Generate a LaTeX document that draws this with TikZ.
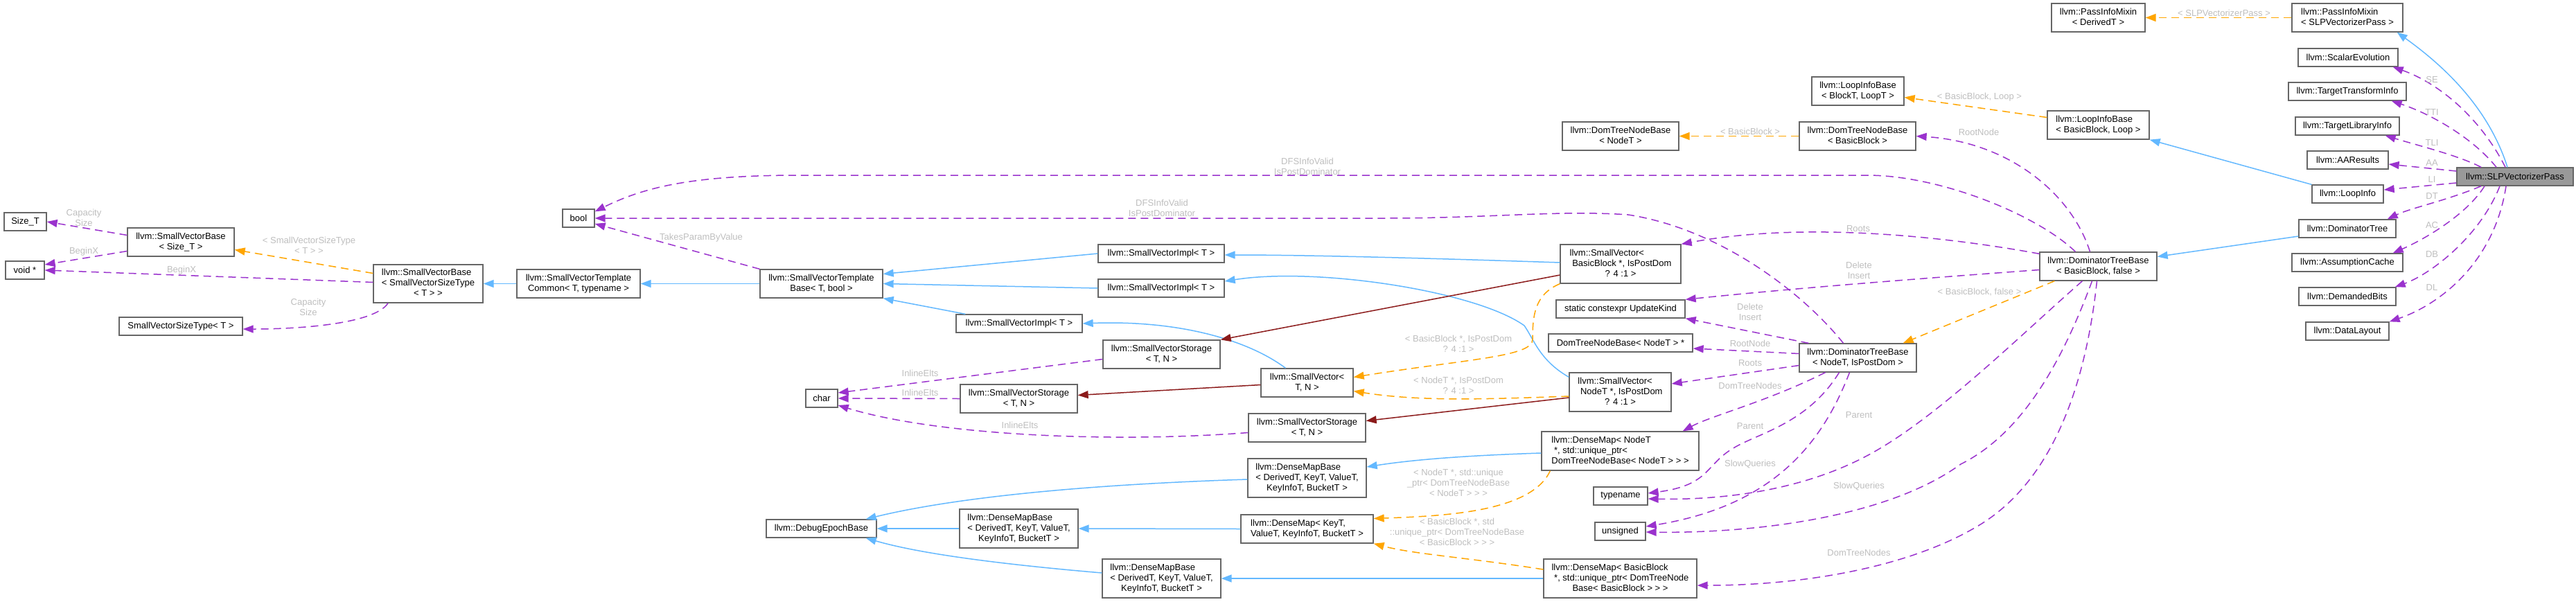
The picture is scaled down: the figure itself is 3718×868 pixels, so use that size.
\documentclass[tikz,border=0pt]{standalone}
\usepackage{fontspec}
\setmainfont{Liberation Sans}
\usetikzlibrary{arrows.meta}
\definecolor{inhblue}{HTML}{63B8FF}
\definecolor{tplorange}{HTML}{FFA500}
\definecolor{usepurple}{HTML}{9A32CD}
\definecolor{privred}{HTML}{8B1A1A}
\definecolor{boxgray}{HTML}{666666}
\definecolor{lblgray}{HTML}{BEBEBE}
\definecolor{selfill}{HTML}{999999}
\newcommand\mlines[2]{\begin{tabular}{@{}l@{}}#1\\\multicolumn{1}{@{}c@{}}{#2}\end{tabular}}
\newcommand\umlnode[7]{%
  \pgfmathsetmacro\ux{(#3+#5)/2}%
  \pgfmathsetmacro\uy{(#4+#6)/2}%
  \pgfmathsetmacro\uw{#5-#3}%
  \pgfmathsetmacro\uh{#6-#4}%
  \node[#1,minimum width=\uw pt,minimum height=\uh pt] (#2) at (\ux,\uy) {#7};}
\tikzset{
  box/.style={draw=boxgray, fill=white, line width=1.3pt, inner sep=0pt, font=\fontsize{13}{15}\selectfont},
  selbox/.style={box, fill=selfill},
  tip/.style={-{Triangle[length=15pt,width=11pt]}},
  inh/.style={draw=inhblue, line width=1.5pt, tip},
  tpl/.style={draw=tplorange, line width=1.5pt, dash pattern=on 11pt off 7pt, tip},
  usage/.style={draw=usepurple, line width=1.5pt, dash pattern=on 11pt off 7pt, tip},
  priv/.style={draw=privred, line width=1.5pt, tip},
  lbl/.style={text=lblgray, font=\fontsize{13}{15}\selectfont, align=center, inner sep=0pt},
}
\begin{document}
\begin{tikzpicture}[x=1pt,y=-1pt]
\useasboundingbox (0,0) rectangle (3718,868);
% ---------------- nodes ----------------
\umlnode{box}{sizet}{6}{307}{67}{333}{Size\_T}
\umlnode{box}{svbsize}{184}{329}{338}{370}{\mlines{llvm::SmallVectorBase}{< Size\_T >}}
\umlnode{box}{voidp}{8}{377}{64}{403}{void *}
\umlnode{box}{svbsst}{539}{382}{697}{437}{\mlines{llvm::SmallVectorBase\\< SmallVectorSizeType}{< T > >}}
\umlnode{box}{svtc}{746}{389}{924}{430}{\mlines{llvm::SmallVectorTemplate}{Common< T, typename >}}
\umlnode{box}{svst}{172}{458}{350}{484}{SmallVectorSizeType< T >}
\umlnode{box}{booln}{812}{302}{858}{328}{bool}
\umlnode{box}{svtb}{1097}{389}{1274}{430}{\mlines{llvm::SmallVectorTemplate}{Base< T, bool >}}
\umlnode{box}{svi1}{1585}{353}{1767}{379}{llvm::SmallVectorImpl< T >}
\umlnode{box}{svi2}{1585}{403}{1767}{429}{llvm::SmallVectorImpl< T >}
\umlnode{box}{svi3}{1380}{454}{1562}{480}{llvm::SmallVectorImpl< T >}
\umlnode{box}{svs1}{1592}{491}{1761}{532}{\mlines{llvm::SmallVectorStorage}{< T, N >}}
\umlnode{box}{svtn}{1820}{532}{1953}{573}{\mlines{llvm::SmallVector<}{T, N >}}
\umlnode{box}{charn}{1163}{562}{1209}{588}{char}
\umlnode{box}{svs2}{1386}{555}{1555}{596}{\mlines{llvm::SmallVectorStorage}{< T, N >}}
\umlnode{box}{svs3}{1802}{597}{1971}{638}{\mlines{llvm::SmallVectorStorage}{< T, N >}}
\umlnode{box}{dmb1}{1801}{662}{1972}{718}{\mlines{llvm::DenseMapBase\\< DerivedT, KeyT, ValueT,}{KeyInfoT, BucketT >}}
\umlnode{box}{deb}{1106}{750}{1265}{776}{llvm::DebugEpochBase}
\umlnode{box}{dmb2}{1385}{735}{1556}{791}{\mlines{llvm::DenseMapBase\\< DerivedT, KeyT, ValueT,}{KeyInfoT, BucketT >}}
\umlnode{box}{dmk}{1791}{743}{1982}{784}{\mlines{llvm::DenseMap< KeyT,}{ValueT, KeyInfoT, BucketT >}}
\umlnode{box}{dmb3}{1591}{807}{1762}{863}{\mlines{llvm::DenseMapBase\\< DerivedT, KeyT, ValueT,}{KeyInfoT, BucketT >}}
\umlnode{box}{pim}{2961}{5}{3096}{46}{\mlines{llvm::PassInfoMixin}{< DerivedT >}}
\umlnode{box}{pims}{3308}{5}{3468}{46}{\mlines{llvm::PassInfoMixin}{< SLPVectorizerPass >}}
\umlnode{box}{se}{3317}{70}{3461}{96}{llvm::ScalarEvolution}
\umlnode{box}{tti}{3303}{119}{3473}{145}{llvm::TargetTransformInfo}
\umlnode{box}{tli}{3313}{169}{3463}{195}{llvm::TargetLibraryInfo}
\umlnode{box}{aa}{3330}{218}{3447}{244}{llvm::AAResults}
\umlnode{selbox}{slp}{3546}{242}{3714}{268}{llvm::SLPVectorizerPass}
\umlnode{box}{li}{3337}{267}{3440}{293}{llvm::LoopInfo}
\umlnode{box}{libb}{2955}{160}{3102}{201}{\mlines{llvm::LoopInfoBase}{< BasicBlock, Loop >}}
\umlnode{box}{lib}{2615}{111}{2748}{152}{\mlines{llvm::LoopInfoBase}{< BlockT, LoopT >}}
\umlnode{box}{dtnb}{2255}{176}{2423}{217}{\mlines{llvm::DomTreeNodeBase}{< NodeT >}}
\umlnode{box}{dtnbb}{2597}{176}{2765}{217}{\mlines{llvm::DomTreeNodeBase}{< BasicBlock >}}
\umlnode{box}{dt}{3318}{317}{3458}{343}{llvm::DominatorTree}
\umlnode{box}{ac}{3308}{366}{3468}{392}{llvm::AssumptionCache}
\umlnode{box}{db}{3318}{415}{3458}{441}{llvm::DemandedBits}
\umlnode{box}{dl}{3328}{465}{3448}{491}{llvm::DataLayout}
\umlnode{box}{dtbb}{2944}{364}{3113}{405}{\mlines{llvm::DominatorTreeBase}{< BasicBlock, false >}}
\umlnode{box}{svbb}{2252}{353}{2426}{409}{\mlines{llvm::SmallVector<\\\ BasicBlock *, IsPostDom}{? 4 :1 >}}
\umlnode{box}{uk}{2246}{433}{2432}{459}{static constexpr UpdateKind}
\umlnode{box}{dtnbp}{2235}{482}{2443}{508}{DomTreeNodeBase< NodeT > *}
\umlnode{box}{dtbn}{2597}{496}{2766}{537}{\mlines{llvm::DominatorTreeBase}{< NodeT, IsPostDom >}}
\umlnode{box}{svn}{2265}{538}{2412}{594}{\mlines{llvm::SmallVector<\\\ NodeT *, IsPostDom}{? 4 :1 >}}
\umlnode{box}{dmn}{2225}{623}{2452}{679}{\mlines{llvm::DenseMap< NodeT\\\ *, std::unique\_ptr<}{DomTreeNodeBase< NodeT > > >}}
\umlnode{box}{tn}{2300}{703}{2378}{729}{typename}
\umlnode{box}{us}{2302}{754}{2375}{780}{unsigned}
\umlnode{box}{dmbbk}{2228}{807}{2449}{863}{\mlines{llvm::DenseMap< BasicBlock\\\ *, std::unique\_ptr< DomTreeNode}{Base< BasicBlock > > >}}
% ---------------- left cluster edges ----------------
\draw[usage] ([yshift=10pt]svbsize.west) -- (sizet.east);
\draw[usage] ([yshift=-13pt]svbsize.west) -- ([yshift=8pt]voidp.east);
\draw[tpl] ([yshift=15pt]svbsst.west) -- ([yshift=-11pt]svbsize.east);
\draw[usage] ([yshift=2pt]svbsst.west) -- (voidp.east);
\draw[usage] ([xshift=-58pt]svbsst.south) .. controls (540,468) and (430,475) .. ([yshift=-4pt]svst.east);
\draw[inh] (svtc.west) -- (svbsst.east);
\draw[inh] (svtb.west) -- (svtc.east);
\draw[usage] (svtb.north west) -- ([yshift=-8pt]booln.east);
\draw[inh] (svi1.west) -- ([yshift=14pt]svtb.east);
\draw[inh] (svi2.west) -- (svtb.east);
\draw[inh] ([xshift=14pt]svi3.north west) -- (svtb.south east);
\draw[inh] ([yshift=2pt]svbb.west) .. controls (2100,374) and (1900,368) .. ([yshift=-2pt]svi1.east);
\draw[inh] ([yshift=-7pt]svn.north west) .. controls (2222,520) and (2214,490) .. (2200,470) .. controls (2130,420) and (1900,385) .. ([yshift=10pt]svi2.east);
\draw[inh] ([xshift=-31pt]svtn.north) .. controls (1800,490) and (1700,462) .. (svi3.east);
\draw[priv] ([yshift=-16pt]svbb.west) -- (svs1.north east);
\draw[priv] ([yshift=-3pt]svtn.west) -- ([yshift=5pt]svs2.east);
\draw[priv] ([yshift=-8pt]svn.west) -- ([yshift=10pt]svs3.east);
\draw[tpl] (svbb.south west) .. controls (2215,425) and (2212,455) .. (2212,490) .. controls (2212,515) and (2120,518) .. ([yshift=8pt]svtn.east);
\draw[tpl] ([yshift=-6pt]svn.west) .. controls (2150,576) and (2050,580) .. ([yshift=-12pt]svtn.east);
\draw[usage] ([yshift=-7pt]svs1.west) -- ([yshift=8pt]charn.east);
\draw[usage] (svs2.west) -- (charn.east);
\draw[usage] ([yshift=-7pt]svs3.west) .. controls (1600,640) and (1350,628) .. ([yshift=-10pt]charn.east);
% ---------------- dense maps ----------------
\draw[inh] ([yshift=-3pt]dmn.west) .. controls (2100,658) and (2030,665) .. ([yshift=16pt]dmb1.east);
\draw[tpl] ([xshift=13pt]dmn.south west) .. controls (2210,740) and (2080,745) .. ([yshift=15pt]dmk.east);
\draw[tpl] ([yshift=13pt]dmbbk.west) .. controls (2120,805) and (2040,800) .. (dmk.south east);
\draw[inh] (dmbbk.west) -- (dmb3.east);
\draw[inh] (dmk.west) -- (dmb2.east);
\draw[inh] ([yshift=-2pt]dmb1.west) .. controls (1550,700) and (1370,720) .. ([xshift=-16pt]deb.north east);
\draw[inh] (dmb2.west) -- (deb.east);
\draw[inh] ([yshift=8pt]dmb3.west) .. controls (1450,815) and (1330,800) .. ([xshift=-16pt]deb.south east);
% ---------------- right cluster ----------------
\draw[tpl] (pims.west) -- (pim.east);
\draw[inh] ([xshift=-11pt]slp.north) .. controls (3590,150) and (3520,90) .. ([xshift=-9pt]pims.south east);
\draw[usage] ([xshift=-14pt]slp.north) .. controls (3580,170) and (3520,120) .. ([xshift=-8pt]se.south east);
\draw[usage] ([xshift=-27pt]slp.north) .. controls (3570,200) and (3510,165) .. ([xshift=-22pt]tti.south east);
\draw[usage] ([xshift=-49pt]slp.north) .. controls (3550,225) and (3490,210) .. ([xshift=-21pt]tli.south east);
\draw[usage] ([yshift=8pt]slp.west) -- ([yshift=-6pt]aa.east);
\draw[usage] ([yshift=-9pt]slp.west) -- ([yshift=6pt]li.east);
\draw[usage] ([xshift=-49pt]slp.south) .. controls (3530,290) and (3480,300) .. ([xshift=-13pt]dt.north east);
\draw[usage] ([xshift=-44pt]slp.south) .. controls (3560,310) and (3500,345) .. ([xshift=-15pt]ac.north east);
\draw[usage] ([xshift=-22pt]slp.south) .. controls (3580,340) and (3510,395) .. ([xshift=-2pt]db.north east);
\draw[usage] ([xshift=-13pt]slp.south) .. controls (3600,380) and (3520,440) .. (dl.north east);
\draw[inh] (li.north west) -- (libb.south east);
\draw[tpl] ([yshift=11pt]libb.west) -- ([yshift=-9pt]lib.east);
\draw[inh] ([yshift=-11pt]dt.west) -- ([yshift=14pt]dtbb.east);
% ---------------- dominator tree base (BasicBlock) ----------------
\draw[tpl] ([xshift=22pt]dtbb.south west) -- ([xshift=-20pt]dtbn.north east);
\draw[usage] ([xshift=-12pt]dtbb.north) .. controls (2990,280) and (2900,205) .. (dtnbb.east);
\draw[tpl] (dtnbb.west) -- (dtnb.east);
\draw[usage] ([xshift=-33pt]dtbb.north) .. controls (2940,310) and (2800,253) .. (2695,253) -- (1153,253) .. controls (1000,253) and (930,270) .. ([yshift=-4pt]booln.north east);
\draw[usage] ([yshift=-3pt]dtbb.north west) .. controls (2800,340) and (2600,320) .. (svbb.north east);
\draw[usage] ([yshift=-5pt]dtbb.west) .. controls (2800,400) and (2600,415) .. (uk.north east);
\draw[usage] ([xshift=-23pt]dtbb.south) .. controls (2920,480) and (2800,600) .. (2700,655) .. controls (2600,710) and (2480,722) .. ([yshift=-4pt]tn.east);
\draw[usage] ([xshift=-9pt]dtbb.south) .. controls (2970,540) and (2910,630) .. (2830,670) .. controls (2720,750) and (2520,770) .. ([yshift=-1pt]us.east);
\draw[usage] ([xshift=-2pt]dtbb.south) .. controls (3010,560) and (2960,700) .. (2850,762) .. controls (2750,820) and (2600,845) .. ([yshift=-10pt]dmbbk.east);
% ---------------- dominator tree base (NodeT) ----------------
\draw[usage] ([xshift=-21pt]dtbn.north) .. controls (2600,420) and (2480,330) .. (2350,310) .. controls (2250,303) and (2150,315) .. (2000,315) -- (booln.east);
\draw[usage] ([xshift=14pt]dtbn.north west) -- (uk.south east);
\draw[usage] ([yshift=6pt]dtbn.west) -- ([yshift=-8pt]dtnbp.east);
\draw[usage] ([yshift=-11pt]dtbn.west) -- ([yshift=12pt]svn.east);
\draw[usage] ([xshift=-47pt]dtbn.south) .. controls (2550,580) and (2470,600) .. ([xshift=-24pt]dmn.north east);
\draw[usage] ([xshift=-27pt]dtbn.south) .. controls (2610,610) and (2540,625) .. (2505,645) .. controls (2460,670) and (2470,700) .. ([yshift=4pt]tn.east);
\draw[usage] ([xshift=-12pt]dtbn.south) .. controls (2630,640) and (2560,730) .. ([yshift=7pt]us.east);
% ---------------- labels ----------------
\node[lbl] (l1) at (121,314) {Capacity\\Size};
\node[lbl] (l2) at (121,363) {BeginX};
\node[lbl] (l3) at (446,354) {< SmallVectorSizeType\\< T > >};
\node[lbl] (l4) at (262,390) {BeginX};
\node[lbl] (l5) at (445,443) {Capacity\\Size};
\node[lbl] (l6) at (1012,343) {TakesParamByValue};
\node[lbl] (l7) at (1887,240) {DFSInfoValid\\IsPostDominator};
\node[lbl] (l8) at (1677,300) {DFSInfoValid\\IsPostDominator};
\node[lbl] (l9) at (1328,539) {InlineElts};
\node[lbl] (l10) at (1328,567) {InlineElts};
\node[lbl] (l11) at (1472,614) {InlineElts};
\node[lbl] (l12) at (2105,496) {< BasicBlock *, IsPostDom\\? 4 :1 >};
\node[lbl] (l13) at (2105,556) {< NodeT *, IsPostDom\\? 4 :1 >};
\node[lbl] (l14) at (2105,697) {< NodeT *, std::unique\\\_ptr< DomTreeNodeBase\\< NodeT > > >};
\node[lbl] (l15) at (2103,768) {< BasicBlock *, std\\::unique\_ptr< DomTreeNodeBase\\< BasicBlock > > >};
\node[lbl] (l16) at (3210,19) {< SLPVectorizerPass >};
\node[lbl] (l17) at (2857,140) {< BasicBlock, Loop >};
\node[lbl] (l18) at (2526,190) {< BasicBlock >};
\node[lbl] (l19) at (2856,191) {RootNode};
\node[lbl] (l20) at (2682,330) {Roots};
\node[lbl] (l21) at (2683,390) {Delete\\Insert};
\node[lbl] (l22) at (2857,422) {< BasicBlock, false >};
\node[lbl] (l23) at (2526,450) {Delete\\Insert};
\node[lbl] (l24) at (2526,496) {RootNode};
\node[lbl] (l25) at (2526,524) {Roots};
\node[lbl] (l26) at (2526,557) {DomTreeNodes};
\node[lbl] (l27) at (2526,615) {Parent};
\node[lbl] (l28) at (2683,599) {Parent};
\node[lbl] (l29) at (2526,670) {SlowQueries};
\node[lbl] (l30) at (2683,702) {SlowQueries};
\node[lbl] (l31) at (2683,798) {DomTreeNodes};
\node[lbl] (l32) at (3510,115) {SE};
\node[lbl] (l33) at (3510,162) {TTI};
\node[lbl] (l34) at (3510,206) {TLI};
\node[lbl] (l35) at (3510,235) {AA};
\node[lbl] (l36) at (3510,259) {LI};
\node[lbl] (l37) at (3510,283) {DT};
\node[lbl] (l38) at (3510,325) {AC};
\node[lbl] (l39) at (3510,367) {DB};
\node[lbl] (l40) at (3510,415) {DL};
\end{tikzpicture}
\end{document}
